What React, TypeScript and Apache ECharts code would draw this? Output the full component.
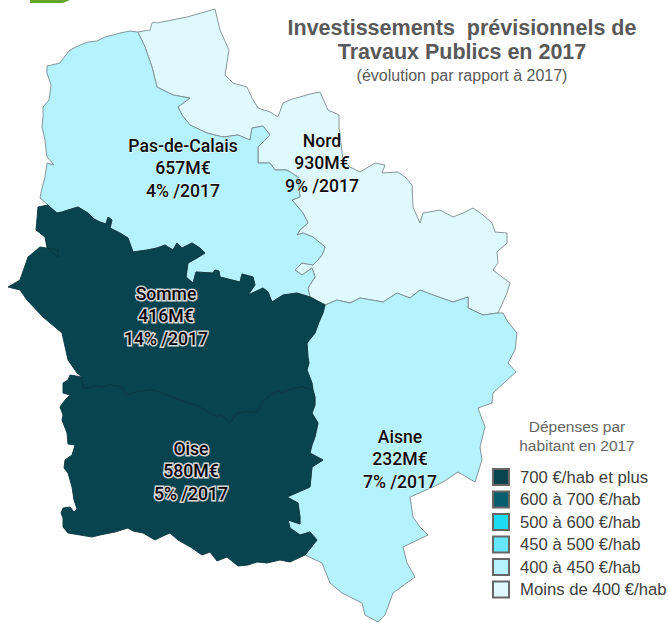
import React, { useEffect, useRef } from "react";
import * as echarts from "echarts";

type P = number[];
const coastPdC: P[] = [[138,32],[130,31],[120,33],[113,35],[105,37],[97,41],[88,42],[80,45],[70,50],[65,56],[60,63],[47,66],[47,73],[51,85],[50,93],[49,100],[43,107],[43,117],[42,127],[45,140],[46,150],[47,157],[54,165],[47,163],[45,177],[42,188],[40,198],[48,205]];
const pdcSomme: P[] = [[48,205],[50,207],[57,213],[62,212],[68,210],[78,207],[88,213],[94,219],[100,222],[106,224],[108,217],[112,220],[110,228],[120,233],[128,238],[133,252],[147,250],[157,248],[165,245],[173,250],[177,243],[182,248],[192,243],[200,248],[205,253],[197,258],[188,263],[186,277],[193,283],[196,272],[213,273],[215,270],[219,271],[220,277],[240,282],[242,274],[253,277],[255,285],[248,295],[263,288],[268,292],[272,302],[283,295],[297,293],[310,297],[325,305]];
const pdcNord: P[] = [[325,305],[310,297],[308,288],[315,277],[312,268],[302,275],[295,270],[302,263],[313,265],[318,260],[322,255],[325,247],[313,237],[303,233],[297,235],[300,230],[308,223],[303,213],[292,200],[300,197],[298,177],[287,170],[275,170],[270,163],[258,163],[258,147],[270,135],[263,126],[252,128],[250,140],[238,135],[223,137],[207,133],[190,125],[182,115],[178,107],[190,98],[173,95],[157,87],[152,67],[145,47],[138,32]];
const nordOuter: P[] = [[138,32],[150,30],[152,23],[155,22],[157,23],[172,20],[187,17],[215,9],[220,30],[229,50],[225,75],[233,83],[247,87],[252,98],[258,108],[270,112],[278,117],[283,103],[292,99],[300,97],[310,94],[320,92],[328,110],[339,115],[339,127],[343,160],[350,167],[360,172],[375,163],[385,165],[382,173],[398,172],[405,177],[412,185],[413,207],[420,223],[423,213],[440,210],[453,217],[463,213],[473,208],[483,215],[492,223],[495,232],[507,233],[507,243],[497,252],[498,263],[493,270],[510,283],[507,293],[498,313]];
const nordAisne: P[] = [[498,313],[483,315],[468,308],[468,297],[453,302],[433,295],[420,290],[410,298],[397,293],[383,302],[360,298],[350,303],[337,300],[325,305]];
const aisneOuter: P[] = [[498,313],[503,313],[508,322],[517,333],[515,350],[508,363],[516,372],[505,382],[493,393],[492,403],[478,408],[485,427],[480,447],[482,460],[475,482],[458,472],[443,482],[433,487],[410,497],[413,517],[420,527],[428,535],[403,547],[407,563],[415,577],[393,593],[385,615],[378,622],[365,615],[362,603],[342,593],[330,583],[322,563],[305,555]];
const aisneOise: P[] = [[305,555],[317,540],[310,532],[300,535],[290,528],[288,520],[300,524],[300,517],[298,503],[287,497],[310,487],[312,467],[323,460],[310,453],[312,445],[315,437],[318,423],[312,413],[315,405],[315,397],[313,390]];
const aisneSomme: P[] = [[313,390],[312,383],[307,370],[309,363],[308,357],[307,343],[315,333],[319,322],[323,313],[325,305]];
const sommeWest: P[] = [[48,205],[38,207],[36,230],[45,237],[47,248],[58,257],[58,250],[40,247],[28,257],[20,280],[8,287],[20,290],[27,300],[43,317],[62,333],[68,360],[77,373],[82,377]];
const sommeOise: P[] = [[82,377],[83,388],[90,388],[95,386],[103,387],[110,385],[122,387],[127,395],[140,391],[153,390],[167,395],[180,400],[200,407],[208,412],[217,417],[222,415],[230,423],[237,413],[247,412],[257,412],[263,402],[270,395],[277,391],[283,393],[290,389],[303,387],[313,390]];
const oiseWest: P[] = [[82,377],[70,375],[68,380],[63,383],[63,393],[70,395],[65,400],[60,407],[63,415],[62,420],[67,433],[68,444],[75,445],[72,455],[65,460],[64,468],[68,473],[72,487],[74,500],[77,509],[74,512],[70,507],[63,508],[61,513],[63,518],[63,527],[68,533],[80,535],[92,537],[100,535],[115,532],[128,528],[133,531],[143,533],[155,540],[163,536],[170,533],[178,540],[192,548],[202,555],[210,552],[217,561],[227,557],[238,566],[248,565],[257,562],[267,563],[280,560],[290,562],[305,555]];

const rev = (a: P[]) => [...a].reverse();
const departments = ["Nord", "Pas-de-Calais", "Aisne", "Somme", "Oise"];
const amounts = ["930M€", "657M€", "232M€", "416M€", "580M€"];
const changes = ["9% /2017", "4% /2017", "7% /2017", "14% /2017", "5% /2017"];
const labelAnchors: P[] = [[322,163],[183,168],[400,459],[166,316],[191,471]];
const rings: P[][] = [
  [...nordOuter, ...nordAisne.slice(1), ...pdcNord.slice(1)],
  [...coastPdC, ...pdcSomme.slice(1), ...pdcNord.slice(1)],
  [...aisneOuter, ...aisneOise.slice(1), ...aisneSomme.slice(1), ...rev(nordAisne).slice(1)],
  [...sommeWest, ...sommeOise.slice(1), ...aisneSomme.slice(1), ...rev(pdcSomme).slice(1)],
  [...oiseWest, ...aisneOise.slice(1), ...rev(sommeOise).slice(1)],
];
const legendNames = ["700 €/hab et plus", "600 à 700 €/hab", "500 à 600 €/hab", "450 à 500 €/hab", "400 à 450 €/hab", "Moins de 400 €/hab"];
const legendColors = ["#07444f", "#045e6e", "#1fdcf5", "#66e6fb", "#b4f2fd", "#dffafe"];
const regionColors = [legendColors[5], legendColors[4], legendColors[4], legendColors[0], legendColors[0]];

const geoJson: any = {
  type: "FeatureCollection",
  features: departments.map((name, i) => ({
    type: "Feature",
    properties: { name },
    geometry: { type: "Polygon", coordinates: [rings[i]] },
  })),
};

export default function App() {
  const ref = useRef<HTMLDivElement>(null);
  useEffect(() => {
    echarts.registerMap("hdf", geoJson);
    const chart = echarts.init(ref.current!, null, { renderer: "svg" });
    chart.setOption({
      animation: false,
      title: {
        text: "Investissements  prévisionnels de\nTravaux Publics en 2017",
        subtext: "(évolution par rapport à 2017)",
        left: 457,
        top: 11,
        padding: 5,
        textAlign: "center",
        itemGap: 3,
        textStyle: { fontFamily: "Liberation Sans", fontWeight: "bold", fontSize: 21.5, lineHeight: 24, color: "#595959" },
        subtextStyle: { fontFamily: "Liberation Sans", fontSize: 16, color: "#595959" },
      },
      legend: {
        orient: "vertical",
        left: 492,
        top: 468,
        padding: 0,
        itemWidth: 16,
        itemHeight: 16,
        itemGap: 4.5,
        selectedMode: false,
        icon: "rect",
        textStyle: { fontFamily: "Liberation Sans", fontSize: 16.7, lineHeight: 16, color: "#404040", padding: [0, 0, 0, 6] },
        data: legendNames,
      },
      geo: {
        map: "hdf",
        silent: true,
        projection: { project: (p: number[]) => [p[0], p[1]], unproject: (p: number[]) => [p[0], p[1]] },
        left: 8,
        top: 9,
        width: 509,
        height: 613,
        label: { show: false },
        itemStyle: { borderColor: "#7c8b8e", borderWidth: 0.9 },
        regions: departments.map((name, i) => ({
          name,
          itemStyle: {
            areaColor: regionColors[i],
            borderColor: regionColors[i] === legendColors[0] ? "#0a3640" : "#7c8b8e",
          },
        })),
      },
      graphic: [
        { type: "polygon", shape: { points: [[30, 0], [70, 0], [63, 3], [30, 3]] }, style: { fill: "#62a82c" } },
        {
          type: "text",
          x: 577,
          y: 417,
          style: {
            text: "Dépenses par\nhabitant en 2017",
            fontFamily: "Liberation Sans",
            fontSize: 15.5,
            lineHeight: 19,
            fill: "#666666",
            align: "center",
          },
        },
      ],
      series: [
        {
          type: "scatter",
          coordinateSystem: "geo",
          symbolSize: 0,
          silent: true,
          itemStyle: { opacity: 1 },
          data: departments.map((name, i) => ({
            name,
            value: labelAnchors[i],
            label: {
              color: regionColors[i] === legendColors[0] ? "#000000" : "#0c0c0c",
              textBorderColor: regionColors[i] === legendColors[0] ? "#d5d5d5" : "rgba(255,255,255,0.7)",
              textBorderWidth: regionColors[i] === legendColors[0] ? 3 : 1,
            },
          })),
          label: {
            show: true,
            opacity: 1,
            position: "inside",
            align: "center",
            verticalAlign: "middle",
            fontFamily: "Roboto",
            fontWeight: 500,
            fontSize: 17.6,
            lineHeight: 22.5,
            formatter: (p: any) => {
              const i = departments.indexOf(p.name);
              return `${departments[i]}\n${amounts[i]}\n${changes[i]}`;
            },
          },
        },
        ...legendNames.map((name, i) => ({
          type: "scatter",
          name,
          data: [],
          coordinateSystem: "geo",
          itemStyle: { color: legendColors[i], opacity: 1, borderColor: "#666666", borderWidth: 1 },
        })),
      ],
    });
    return () => chart.dispose();
  }, []);
  return <div ref={ref} style={{ position: "absolute", left: 0, top: 0, width: 668, height: 623 }} />;
}
